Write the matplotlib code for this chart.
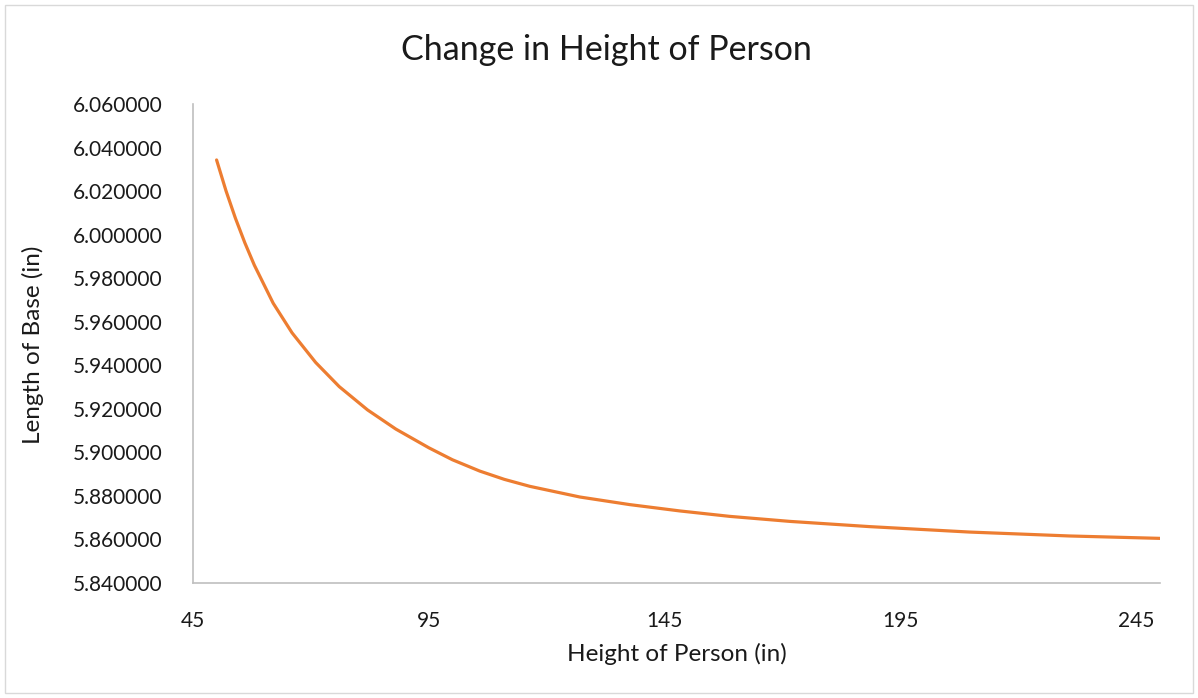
import matplotlib
matplotlib.use("Agg")
import matplotlib.pyplot as plt
from matplotlib.patches import Rectangle

# Data
height_in = [50.0, 52.0, 54.0, 56.0, 58.0, 62.0, 66.0, 71.0, 76.0, 82.0, 88.0,
             95.0, 100.0, 105.8, 111.0, 116.4, 127.0, 137.6, 148.2, 158.8,
             171.5, 188.4, 209.6, 230.8, 250.0]
base_len = [6.0343, 6.0201, 6.0075, 5.9962, 5.9860, 5.9685, 5.9549, 5.9413,
            5.9302, 5.9195, 5.9107, 5.9021, 5.8966, 5.8914, 5.8876, 5.8844,
            5.8795, 5.8760, 5.8731, 5.8706, 5.8683, 5.8659, 5.8634, 5.8616,
            5.8605]
x_ticks = [45, 95, 145, 195, 245]
y_ticks = [5.84, 5.86, 5.88, 5.90, 5.92, 5.94, 5.96, 5.98, 6.00, 6.02, 6.04, 6.06]

plt.rcParams['font.family'] = ['Lato', 'DejaVu Sans']

W, H = 1198, 698
fig = plt.figure(figsize=(W / 100, H / 100), dpi=100)
ax = fig.add_axes([193 / W, 1 - 583 / H, (1160 - 193) / W, (583 - 104) / H])

ax.plot(height_in, base_len, color='#ED7D31', lw=2.3, solid_capstyle='round',
        solid_joinstyle='round')

ax.set_xlim(45, 250)
ax.set_ylim(5.84, 6.06)
ax.set_xticks(x_ticks)
ax.set_xticklabels([str(t) for t in x_ticks])
ax.set_yticks(y_ticks)
ax.set_yticklabels([f"{t:.6f}" for t in y_ticks])

for s in ['top', 'right']:
    ax.spines[s].set_visible(False)
for s in ['left', 'bottom']:
    ax.spines[s].set_color('#BFBFBF')
    ax.spines[s].set_linewidth(1.2)
ax.tick_params(axis='both', length=0, labelsize=15, colors='#1a1a1a')
ax.tick_params(axis='y', pad=22)
ax.tick_params(axis='x', pad=20)

fig.text(606 / W, 1 - 50 / H, 'Change in Height of Person', ha='center', va='center',
         fontsize=24.5, color='#1a1a1a')
fig.text(677 / W, 1 - 654 / H, 'Height of Person (in)', ha='center', va='center',
         fontsize=17.5, color='#1a1a1a')
fig.text(33 / W, 1 - 345 / H, 'Length of Base (in)', ha='center', va='center',
         fontsize=17.5, rotation=90, color='#1a1a1a')

fig.patches.append(Rectangle((5 / W, 5 / H), (W - 10) / W, (H - 10) / H,
                             transform=fig.transFigure, fill=False,
                             edgecolor='#D9D9D9', lw=1))

fig.savefig('out.png', dpi=100, facecolor='white')
